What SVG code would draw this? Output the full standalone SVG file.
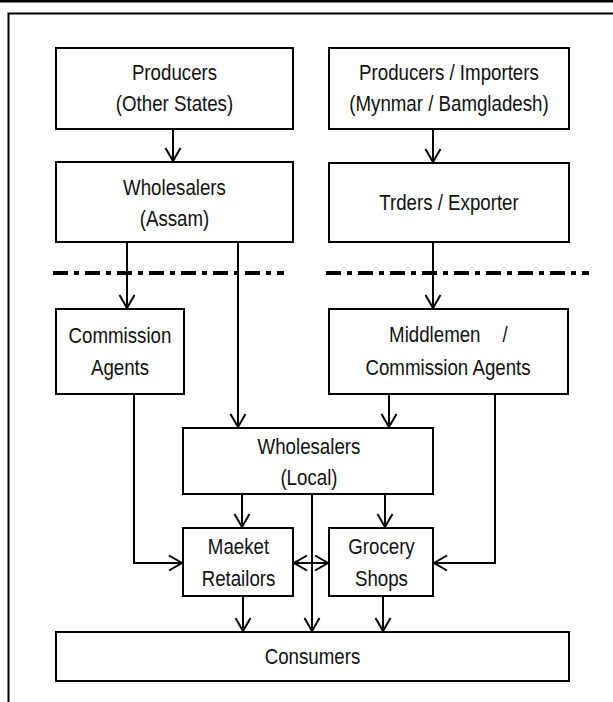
<svg xmlns="http://www.w3.org/2000/svg" width="613" height="702" viewBox="0 0 613 702">
  <style>
    .box { fill: #fff; stroke: #000; stroke-width: 2; }
    .lbl { font-family: "Liberation Sans", Arial, sans-serif; font-size: 22px; fill: #111; text-anchor: middle; }
    .conn { fill: none; stroke: #000; stroke-width: 2; }
    .arrow { marker-end: url(#head); }
    .both { marker-start: url(#head); marker-end: url(#head); }
    .divider { fill: none; stroke: #000; stroke-width: 4; stroke-dasharray: 15 6 5 6; }
  </style>
  <defs>
    <marker id="head" viewBox="-15 -9 17 18" refX="0" refY="0" markerWidth="17" markerHeight="18" markerUnits="userSpaceOnUse" orient="auto-start-reverse">
      <path d="M -13 -7.5 L 0 0 L -13 7.5" fill="none" stroke="#000" stroke-width="2"/>
    </marker>
  </defs>

  <rect width="613" height="702" fill="#fff"/>

  <!-- page rule and outer frame -->
  <g id="frame">
    <line x1="0" y1="1.2" x2="613" y2="1.2" stroke="#000" stroke-width="2.5"/>
    <path d="M 8.5 702 V 13.5 H 613" fill="none" stroke="#000" stroke-width="2"/>
  </g>

  <!-- dash-dot boundary lines -->
  <g id="dividers">
    <line class="divider" x1="53" y1="273" x2="284" y2="273"/>
    <line class="divider" x1="326" y1="273" x2="589" y2="273"/>
  </g>

  <!-- connectors -->
  <g id="connectors">
    <line class="conn arrow" x1="173" y1="129" x2="173" y2="161"/>
    <line class="conn arrow" x1="433" y1="129" x2="433" y2="162"/>
    <line class="conn arrow" x1="127" y1="242" x2="127" y2="308"/>
    <line class="conn arrow" x1="238" y1="242" x2="238" y2="427"/>
    <line class="conn arrow" x1="433" y1="242" x2="433" y2="308"/>
    <line class="conn arrow" x1="389" y1="394" x2="389" y2="427"/>
    <path class="conn arrow" d="M 134 394 V 563 H 182"/>
    <path class="conn arrow" d="M 495 394 V 563 H 434"/>
    <line class="conn arrow" x1="242" y1="494" x2="242" y2="527"/>
    <line class="conn arrow" x1="385" y1="494" x2="385" y2="527"/>
    <line class="conn arrow" x1="312" y1="494" x2="312" y2="631"/>
    <line class="conn both" x1="294" y1="563" x2="328" y2="563"/>
    <line class="conn arrow" x1="243" y1="596" x2="243" y2="631"/>
    <line class="conn arrow" x1="383" y1="596" x2="383" y2="631"/>
  </g>

  <!-- labels use a narrowed face: text x values are divided by 0.85 -->
  <g id="producers-other-states">
    <rect class="box" x="56" y="48" width="237" height="81"/>
    <g transform="scale(0.85 1)">
      <text class="lbl" x="205.3" y="80">Producers</text>
      <text class="lbl" x="205.3" y="111">(Other States)</text>
    </g>
  </g>

  <g id="producers-importers">
    <rect class="box" x="329" y="48" width="240" height="81"/>
    <g transform="scale(0.85 1)">
      <text class="lbl" x="528.2" y="80">Producers / Importers</text>
      <text class="lbl" x="528.2" y="111">(Mynmar / Bamgladesh)</text>
    </g>
  </g>

  <g id="wholesalers-assam">
    <rect class="box" x="56" y="162" width="237" height="80"/>
    <g transform="scale(0.85 1)">
      <text class="lbl" x="205.3" y="195">Wholesalers</text>
      <text class="lbl" x="205.3" y="226">(Assam)</text>
    </g>
  </g>

  <g id="traders-exporter">
    <rect class="box" x="329" y="163" width="240" height="79"/>
    <g transform="scale(0.85 1)">
      <text class="lbl" x="528.2" y="210">Trders / Exporter</text>
    </g>
  </g>

  <g id="commission-agents">
    <rect class="box" x="56" y="309" width="128" height="85"/>
    <g transform="scale(0.85 1)">
      <text class="lbl" x="141.2" y="343">Commission</text>
      <text class="lbl" x="141.2" y="375">Agents</text>
    </g>
  </g>

  <g id="middlemen">
    <rect class="box" x="329" y="309" width="239" height="85"/>
    <g transform="scale(0.85 1)">
      <text class="lbl" x="527.6" y="342">Middlemen<tspan dx="26">/</tspan></text>
      <text class="lbl" x="527.1" y="375">Commission Agents</text>
    </g>
  </g>

  <g id="wholesalers-local">
    <rect class="box" x="183" y="428" width="250" height="66"/>
    <g transform="scale(0.85 1)">
      <text class="lbl" x="363.5" y="454">Wholesalers</text>
      <text class="lbl" x="363.5" y="485">(Local)</text>
    </g>
  </g>

  <g id="market-retailors">
    <rect class="box" x="183" y="528" width="110" height="68"/>
    <g transform="scale(0.85 1)">
      <text class="lbl" x="280.6" y="554">Maeket</text>
      <text class="lbl" x="280.6" y="586">Retailors</text>
    </g>
  </g>

  <g id="grocery-shops">
    <rect class="box" x="329" y="528" width="104" height="68"/>
    <g transform="scale(0.85 1)">
      <text class="lbl" x="448.8" y="554">Grocery</text>
      <text class="lbl" x="448.8" y="586">Shops</text>
    </g>
  </g>

  <g id="consumers">
    <rect class="box" x="56" y="632" width="513" height="49"/>
    <g transform="scale(0.85 1)">
      <text class="lbl" x="367.6" y="664">Consumers</text>
    </g>
  </g>
</svg>
